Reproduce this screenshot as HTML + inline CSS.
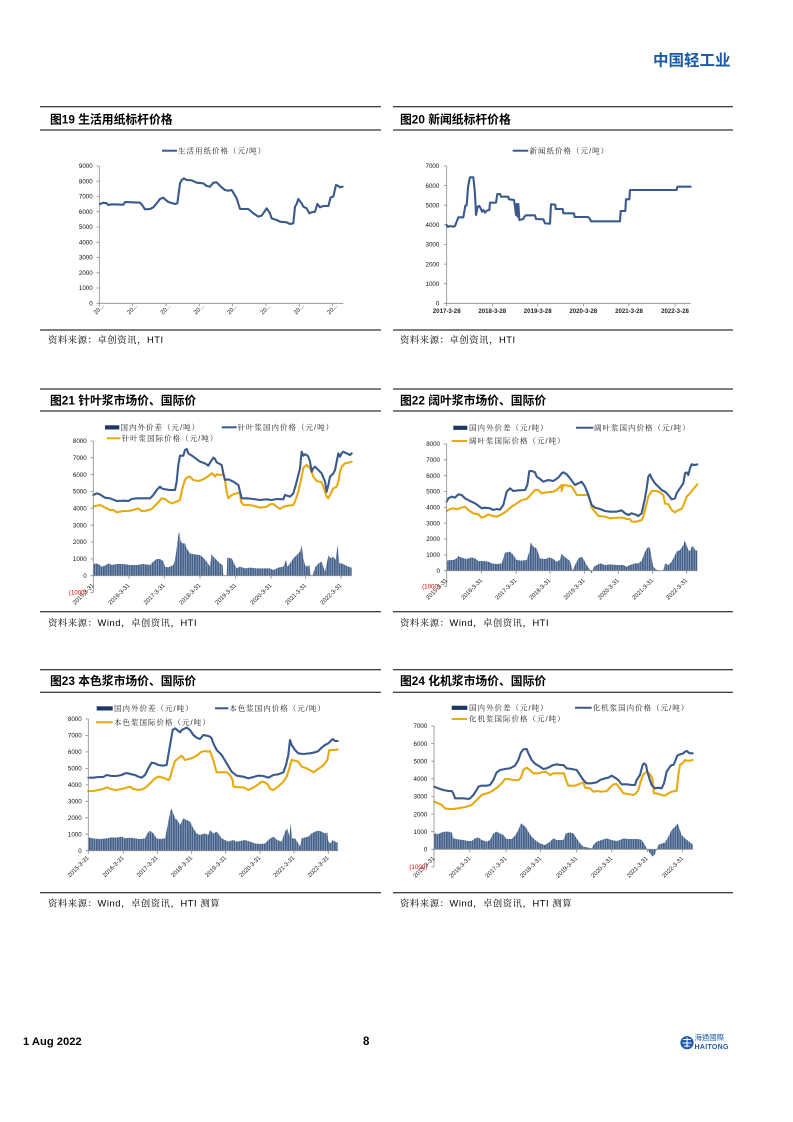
<!DOCTYPE html>
<html>
<head>
<meta charset="utf-8">
<style>
html,body{margin:0;padding:0;background:#fff;}
body{width:793px;height:1122px;overflow:hidden;}
svg{display:block;}
text{font-family:"Liberation Sans","Noto Sans CJK SC",sans-serif;}
.ttl{font-size:11.8px;font-weight:bold;fill:#000;}
.src{font-size:9.3px;letter-spacing:0.6px;fill:#000;font-family:"Liberation Sans","Noto Serif CJK SC",serif;}
.lg{font-size:7.5px;letter-spacing:1px;fill:#222;font-family:"Liberation Sans","Noto Serif CJK SC",serif;}
.yl{font-size:6.2px;fill:#111;text-anchor:end;}
.yr{font-size:6.2px;fill:#e00000;text-anchor:end;}
.xl{font-size:6px;fill:#222;text-anchor:end;}
.xb{font-size:6.1px;font-weight:bold;fill:#222;text-anchor:middle;}
.ax{stroke:#8a8a8a;stroke-width:0.8;fill:none;}
.rule{stroke:#000;stroke-width:1;}
.bl{fill:none;stroke:#3a5a8c;stroke-width:6.3;stroke-linejoin:round;stroke-linecap:round;}
.ye{fill:none;stroke:#e6ab12;stroke-width:6.3;stroke-linejoin:round;stroke-linecap:round;}
.bar{fill:url(#st);}
</style>
</head>
<body>
<svg width="793" height="1122" viewBox="0 0 793 1122" xmlns="http://www.w3.org/2000/svg">
<defs>
<pattern id="st" width="7" height="20" patternUnits="userSpaceOnUse">
<rect width="7" height="20" fill="#42608a"/>
<rect x="5.2" width="1.8" height="20" fill="#a9b8cc"/>
</pattern>
</defs>

<!-- Header -->
<text x="653" y="65.5" style="font-size:15.5px;font-weight:bold;fill:#1b5aa6;">中国轻工业</text>

<!-- ============ Chart 19 ============ -->
<line class="rule" x1="40" y1="106.7" x2="381" y2="106.7"/>
<text class="ttl" x="50" y="123.5">图19 生活用纸标杆价格</text>
<line class="rule" x1="40" y1="130" x2="381" y2="130"/>
<line x1="162" y1="150.7" x2="177" y2="150.7" stroke="#3a5a8c" stroke-width="2"/>
<text class="lg" x="178" y="153.4">生活用纸价格（元/吨）</text>
<g>
<text class="yl" x="92.7" y="305.5">0</text>
<text class="yl" x="92.7" y="290.2">1000</text>
<text class="yl" x="92.7" y="275">2000</text>
<text class="yl" x="92.7" y="259.7">3000</text>
<text class="yl" x="92.7" y="244.5">4000</text>
<text class="yl" x="92.7" y="229.2">5000</text>
<text class="yl" x="92.7" y="213.9">6000</text>
<text class="yl" x="92.7" y="198.7">7000</text>
<text class="yl" x="92.7" y="183.4">8000</text>
<text class="yl" x="92.7" y="168.2">9000</text>
</g>
<path class="ax" d="M99.3,166V303.3H343.3 M96.5,166H99.3 M96.5,181.2H99.3 M96.5,196.5H99.3 M96.5,211.7H99.3 M96.5,227H99.3 M96.5,242.3H99.3 M96.5,257.5H99.3 M96.5,272.8H99.3 M96.5,288H99.3 M96.5,303.3H99.3 M99.3,303.3v3 M132.6,303.3v3 M166,303.3v3 M199.3,303.3v3 M232.6,303.3v3 M266,303.3v3 M299.3,303.3v3 M332.6,303.3v3"/>
<g>
<text class="xl" transform="translate(104.3,306.5) rotate(-45)">20...</text>
<text class="xl" transform="translate(137.6,306.5) rotate(-45)">20...</text>
<text class="xl" transform="translate(171,306.5) rotate(-45)">20...</text>
<text class="xl" transform="translate(204.3,306.5) rotate(-45)">20...</text>
<text class="xl" transform="translate(237.6,306.5) rotate(-45)">20...</text>
<text class="xl" transform="translate(271,306.5) rotate(-45)">20...</text>
<text class="xl" transform="translate(304.3,306.5) rotate(-45)">20...</text>
<text class="xl" transform="translate(337.6,306.5) rotate(-45)">20...</text>
</g>
<g transform="translate(40,100) scale(0.33333)">
<polyline class="bl" points="180,312 190,308 200,310 205,315 215,313 250,314 255,306 300,308 305,313 315,328 330,327 340,322 350,310 360,297 370,293 375,298 385,306 405,312 412,310 420,250 425,240 432,235 440,240 455,241 470,248 490,250 500,258 510,260 520,248 530,247 545,262 555,270 565,272 575,270 580,278 590,295 600,327 625,327 640,340 655,350 665,347 680,325 690,340 695,355 710,360 720,365 740,367 750,372 760,370 765,320 770,312 775,297 785,310 790,320 800,325 808,340 815,337 825,335 832,312 840,322 850,318 865,318 872,292 880,290 888,255 895,258 900,262 908,260"/>
</g>
<line class="rule" x1="40" y1="330" x2="381" y2="330"/>
<text class="src" x="48" y="342.8">资料来源：卓创资讯，HTI</text>

<!-- ============ Chart 20 ============ -->
<line class="rule" x1="393" y1="106.7" x2="733" y2="106.7"/>
<text class="ttl" x="400" y="123.5">图20 新闻纸标杆价格</text>
<line class="rule" x1="393" y1="130" x2="733" y2="130"/>
<line x1="512.7" y1="150.7" x2="528.3" y2="150.7" stroke="#3a5a8c" stroke-width="2"/>
<text class="lg" x="529.5" y="153.4">新闻纸价格（元/吨）</text>
<g>
<text class="yl" x="439.3" y="305.5">0</text>
<text class="yl" x="439.3" y="285.9">1000</text>
<text class="yl" x="439.3" y="266.3">2000</text>
<text class="yl" x="439.3" y="246.6">3000</text>
<text class="yl" x="439.3" y="227">4000</text>
<text class="yl" x="439.3" y="207.4">5000</text>
<text class="yl" x="439.3" y="187.8">6000</text>
<text class="yl" x="439.3" y="168.2">7000</text>
</g>
<path class="ax" d="M446.7,166V303.3H690.7 M443.9,166H446.7 M443.9,185.6H446.7 M443.9,205.2H446.7 M443.9,224.8H446.7 M443.9,244.4H446.7 M443.9,264.1H446.7 M443.9,283.7H446.7 M443.9,303.3H446.7 M446.7,303.3v3 M492.3,303.3v3 M537.7,303.3v3 M583.3,303.3v3 M629,303.3v3 M675,303.3v3"/>
<g>
<text class="xb" x="446.7" y="313">2017-3-28</text>
<text class="xb" x="492.3" y="313">2018-3-28</text>
<text class="xb" x="537.7" y="313">2019-3-28</text>
<text class="xb" x="583.3" y="313">2020-3-28</text>
<text class="xb" x="629" y="313">2021-3-28</text>
<text class="xb" x="675" y="313">2022-3-28</text>
</g>
<g transform="translate(390,100) scale(0.33333)">
<polyline class="bl" points="170,375 172,380 176,380 178,378 190,380 195,378 200,365 205,352 220,352 222,340 226,317 230,316 232,290 234,262 238,240 240,232 250,232 252,250 254,270 256,300 258,345 260,335 263,320 268,318 272,325 276,335 280,330 285,338 290,332 298,330 300,308 318,308 322,282 330,282 333,290 355,290 357,298 372,300 375,320 378,345 380,312 383,350 385,312 388,360 400,357 403,350 408,346 435,346 438,357 460,358 465,370 480,371 483,313 496,314 497,327 518,327 520,340 552,340 554,351 594,351 600,357 603,364 690,364 692,333 706,333 708,298 718,298 720,270 860,270 862,260 902,260"/>
</g>
<line class="rule" x1="393" y1="330" x2="733" y2="330"/>
<text class="src" x="400" y="342.8">资料来源：卓创资讯，HTI</text>

<!-- ============ Chart 21 ============ -->
<line class="rule" x1="40" y1="389" x2="381" y2="389"/>
<text class="ttl" x="50" y="404.5">图21 针叶浆市场价、国际价</text>
<line class="rule" x1="40" y1="411" x2="381" y2="411"/>
<rect x="105" y="425.3" width="14.3" height="4.2" fill="#1f3864"/>
<text class="lg" x="120.5" y="430">国内外价差（元/吨）</text>
<line x1="221.7" y1="427.3" x2="236.7" y2="427.3" stroke="#3a5a8c" stroke-width="2"/>
<text class="lg" x="237.5" y="430">针叶浆国内价格（元/吨）</text>
<line x1="106.7" y1="438.3" x2="120.5" y2="438.3" stroke="#e6ab12" stroke-width="2"/>
<text class="lg" x="121.7" y="441">针叶浆国际价格（元/吨）</text>
<g>
<text class="yr" x="86.7" y="594.7">(1000)</text>
<text class="yl" x="86.7" y="577.9">0</text>
<text class="yl" x="86.7" y="561.1">1000</text>
<text class="yl" x="86.7" y="544.2">2000</text>
<text class="yl" x="86.7" y="527.4">3000</text>
<text class="yl" x="86.7" y="510.5">4000</text>
<text class="yl" x="86.7" y="493.7">5000</text>
<text class="yl" x="86.7" y="476.9">6000</text>
<text class="yl" x="86.7" y="460">7000</text>
<text class="yl" x="86.7" y="443.2">8000</text>
</g>
<g transform="translate(40,385) scale(0.33333)">
<polygon class="bar" points="160,572 160,540 165,535 175,537 185,545 195,542 205,535 215,540 230,537 250,537 270,540 290,540 310,537 330,540 340,530 350,522 360,522 370,528 375,545 385,547 400,540 405,525 410,490 415,450 418,440 422,470 428,475 435,475 440,490 450,505 465,508 480,510 490,518 500,530 510,545 515,505 520,515 530,525 540,535 548,540 550,572 560,572 562,518 575,520 582,535 590,550 600,545 615,550 630,548 650,550 670,550 690,550 700,555 715,548 730,545 738,525 742,545 750,535 760,520 770,510 780,500 785,480 790,520 795,540 800,545 808,540 812,572 818,572 825,548 835,535 845,530 850,545 855,560 860,535 866,510 872,520 880,515 887,525 893,480 898,535 905,535 915,540 925,545 935,548 935,572"/>
<polyline class="ye" points="160,365 170,362 180,360 190,365 200,370 210,375 220,375 230,382 240,380 250,378 265,378 280,375 295,370 305,378 320,377 335,372 345,362 355,352 365,340 375,342 385,350 395,355 410,350 420,345 425,320 430,300 435,285 440,278 450,275 460,285 475,288 485,285 495,280 505,273 515,265 520,268 525,275 530,268 540,270 550,268 555,285 560,320 565,340 575,330 590,325 600,323 603,350 610,360 625,360 640,362 660,368 680,365 690,358 700,357 710,365 720,372 730,365 745,362 760,360 765,350 775,320 785,275 790,248 800,240 810,250 815,260 820,275 830,288 845,292 855,320 860,335 865,340 870,330 880,310 890,305 895,290 900,260 905,245 915,235 930,232 935,230"/>
<polyline class="bl" points="160,330 170,325 180,328 190,335 195,338 210,340 230,348 250,347 265,348 275,342 290,340 310,340 330,340 340,330 350,315 360,305 365,310 375,313 390,315 405,315 410,290 415,240 420,212 430,212 435,195 440,192 445,205 460,215 480,230 495,235 505,242 512,230 520,218 525,222 530,232 545,240 550,265 555,285 565,283 580,290 595,300 600,320 605,340 620,340 640,342 660,345 680,343 695,345 710,342 730,343 735,330 750,335 760,325 770,290 780,250 785,200 790,212 795,208 800,210 805,215 810,230 815,260 820,250 825,245 835,255 845,265 855,290 860,320 865,300 870,275 880,265 885,255 890,230 895,205 900,215 905,205 910,200 920,205 930,210 935,205"/>
</g>
<path class="ax" d="M93.3,441V592.5 M93.3,575.7H351.7 M90.5,441H93.3 M90.5,457.8H93.3 M90.5,474.7H93.3 M90.5,491.5H93.3 M90.5,508.3H93.3 M90.5,525.2H93.3 M90.5,542H93.3 M90.5,558.9H93.3 M90.5,575.7H93.3 M90.5,592.5H93.3 M93.3,575.7v3 M129,575.7v3 M164.3,575.7v3 M200,575.7v3 M235.7,575.7v3 M271,575.7v3 M305.7,575.7v3 M341,575.7v3"/>
<g>
<text class="xl" transform="translate(94.3,585.7) rotate(-45)">2015-3-31</text>
<text class="xl" transform="translate(130,585.7) rotate(-45)">2016-3-31</text>
<text class="xl" transform="translate(165.3,585.7) rotate(-45)">2017-3-31</text>
<text class="xl" transform="translate(201,585.7) rotate(-45)">2018-3-31</text>
<text class="xl" transform="translate(236.7,585.7) rotate(-45)">2019-3-31</text>
<text class="xl" transform="translate(272,585.7) rotate(-45)">2020-3-31</text>
<text class="xl" transform="translate(306.7,585.7) rotate(-45)">2021-3-31</text>
<text class="xl" transform="translate(342,585.7) rotate(-45)">2022-3-31</text>
</g>
<line class="rule" x1="40" y1="611.7" x2="381" y2="611.7"/>
<text class="src" x="48" y="625.8">资料来源：Wind，卓创资讯，HTI</text>

<!-- ============ Chart 22 ============ -->
<line class="rule" x1="393" y1="389" x2="733" y2="389"/>
<text class="ttl" x="400" y="404.5">图22 阔叶浆市场价、国际价</text>
<line class="rule" x1="393" y1="411" x2="733" y2="411"/>
<rect x="453.3" y="425.7" width="14" height="4.2" fill="#1f3864"/>
<text class="lg" x="469" y="430.4">国内外价差（元/吨）</text>
<line x1="576" y1="427.7" x2="593.3" y2="427.7" stroke="#3a5a8c" stroke-width="2"/>
<text class="lg" x="594" y="430.4">阔叶浆国内价格（元/吨）</text>
<line x1="451.7" y1="441" x2="467.3" y2="441" stroke="#e6ab12" stroke-width="2"/>
<text class="lg" x="469" y="443.7">阔叶浆国际价格（元/吨）</text>
<g>
<text class="yr" x="440" y="588.7">(1000)</text>
<text class="yl" x="440" y="572.9">0</text>
<text class="yl" x="440" y="557.1">1000</text>
<text class="yl" x="440" y="541.2">2000</text>
<text class="yl" x="440" y="525.4">3000</text>
<text class="yl" x="440" y="509.5">4000</text>
<text class="yl" x="440" y="493.7">5000</text>
<text class="yl" x="440" y="477.9">6000</text>
<text class="yl" x="440" y="462">7000</text>
<text class="yl" x="440" y="446.2">8000</text>
</g>
<g transform="translate(390,385) scale(0.33333)">
<polygon class="bar" points="170,557 170,527 180,525 190,525 200,520 205,513 215,518 230,522 245,517 255,520 265,528 280,528 295,530 305,535 320,537 335,535 340,520 345,503 360,500 370,510 380,525 395,527 410,525 418,500 422,472 430,485 440,490 450,520 465,522 480,517 490,522 500,530 510,525 515,505 520,512 530,520 540,528 548,557 555,540 565,520 575,515 582,525 590,540 598,552 605,565 608,557 612,545 630,535 645,540 660,538 680,540 700,540 710,545 720,540 735,535 745,535 755,527 765,500 775,485 780,490 785,520 790,545 800,555 810,557 820,557 825,535 835,540 845,530 850,520 860,500 870,495 880,480 884,467 888,475 895,495 900,498 905,485 910,485 915,495 922,497 922,557"/>
<polyline class="ye" points="170,378 180,372 190,370 200,373 215,368 225,365 235,375 250,385 265,388 275,398 285,395 295,388 305,392 320,395 335,388 350,378 365,365 380,355 395,345 410,342 420,332 435,315 445,315 455,325 470,322 490,320 500,315 510,305 515,300 515,318 520,300 535,302 545,305 555,320 560,330 575,330 585,330 595,330 600,345 605,368 615,380 625,393 645,395 660,400 680,398 700,398 710,402 720,402 725,410 740,410 755,405 760,395 765,375 775,335 785,318 800,318 810,322 820,330 825,355 835,358 845,375 855,382 865,375 875,372 885,350 890,335 900,325 910,312 922,298"/>
<polyline class="bl" points="170,350 175,340 185,335 195,338 205,328 215,330 225,340 240,348 255,355 265,362 275,370 285,368 300,370 310,375 320,372 330,374 340,360 345,340 350,320 360,310 370,318 385,316 405,315 412,300 418,258 425,258 435,262 440,275 450,282 460,290 475,285 490,288 505,278 515,265 520,262 530,268 540,280 555,300 565,295 575,290 585,305 595,330 605,360 615,368 630,372 645,378 660,380 680,380 695,376 705,385 715,390 725,385 735,388 745,393 755,385 765,340 770,310 775,275 780,268 785,280 795,295 805,305 815,315 825,320 835,330 845,343 855,340 860,325 870,310 880,295 885,265 890,262 895,270 900,250 905,238 915,240 922,238"/>
</g>
<path class="ax" d="M446.7,444V586.5 M446.7,570.7H697.3 M443.9,444H446.7 M443.9,459.8H446.7 M443.9,475.7H446.7 M443.9,491.5H446.7 M443.9,507.3H446.7 M443.9,523.2H446.7 M443.9,539H446.7 M443.9,554.9H446.7 M443.9,570.7H446.7 M443.9,586.5H446.7 M446.7,570.7v3 M481.7,570.7v3 M516,570.7v3 M550,570.7v3 M584.3,570.7v3 M618.3,570.7v3 M652.7,570.7v3 M686.7,570.7v3"/>
<g>
<text class="xl" transform="translate(447.7,580.7) rotate(-45)">2015-3-31</text>
<text class="xl" transform="translate(482.7,580.7) rotate(-45)">2016-3-31</text>
<text class="xl" transform="translate(517,580.7) rotate(-45)">2017-3-31</text>
<text class="xl" transform="translate(551,580.7) rotate(-45)">2018-3-31</text>
<text class="xl" transform="translate(585.3,580.7) rotate(-45)">2019-3-31</text>
<text class="xl" transform="translate(619.3,580.7) rotate(-45)">2020-3-31</text>
<text class="xl" transform="translate(653.7,580.7) rotate(-45)">2021-3-31</text>
<text class="xl" transform="translate(687.7,580.7) rotate(-45)">2022-3-31</text>
</g>
<line class="rule" x1="393" y1="611.7" x2="733" y2="611.7"/>
<text class="src" x="400" y="625.8">资料来源：Wind，卓创资讯，HTI</text>

<!-- ============ Chart 23 ============ -->
<line class="rule" x1="40" y1="669.7" x2="381" y2="669.7"/>
<text class="ttl" x="50" y="685.2">图23 本色浆市场价、国际价</text>
<line class="rule" x1="40" y1="692.3" x2="381" y2="692.3"/>
<rect x="96.7" y="706.3" width="16" height="4.2" fill="#1f3864"/>
<text class="lg" x="114" y="711">国内外价差（元/吨）</text>
<line x1="215" y1="708.3" x2="228.3" y2="708.3" stroke="#3a5a8c" stroke-width="2"/>
<text class="lg" x="229.3" y="711">本色浆国内价格（元/吨）</text>
<line x1="96" y1="722.3" x2="112.7" y2="722.3" stroke="#e6ab12" stroke-width="2"/>
<text class="lg" x="114" y="725">本色浆国际价格（元/吨）</text>
<g>
<text class="yl" x="81.7" y="852.9">0</text>
<text class="yl" x="81.7" y="836.4">1000</text>
<text class="yl" x="81.7" y="820">2000</text>
<text class="yl" x="81.7" y="803.5">3000</text>
<text class="yl" x="81.7" y="787.1">4000</text>
<text class="yl" x="81.7" y="770.6">5000</text>
<text class="yl" x="81.7" y="754.1">6000</text>
<text class="yl" x="81.7" y="737.7">7000</text>
<text class="yl" x="81.7" y="721.2">8000</text>
</g>
<g transform="translate(40,665) scale(0.33333)">
<polygon class="bar" points="145,557 145,517 160,520 180,522 200,520 215,517 230,518 245,515 255,520 270,518 285,520 300,522 315,520 322,505 330,497 340,505 350,520 360,522 375,520 385,470 393,430 398,440 405,460 412,465 420,480 430,460 440,465 450,470 460,490 470,505 480,510 495,505 505,510 510,495 520,505 530,500 538,510 545,520 555,525 565,530 580,525 590,530 600,528 615,525 630,530 645,535 660,537 675,535 688,522 700,515 712,525 725,530 735,500 742,490 748,515 752,475 756,520 765,520 775,535 780,545 785,520 795,517 805,515 815,505 825,500 835,497 845,500 855,505 862,502 865,530 872,535 878,525 885,530 893,533 893,557"/>
<polyline class="ye" points="145,378 160,378 175,375 190,372 200,367 215,373 230,375 245,372 260,368 270,365 280,372 295,375 310,372 320,365 330,355 345,340 355,335 365,337 375,340 385,345 390,340 395,320 405,288 415,280 425,272 435,285 445,282 455,280 465,275 475,268 485,260 495,258 505,260 510,258 520,285 525,305 530,322 545,322 560,322 570,330 578,345 580,365 595,367 610,367 625,375 640,368 652,360 665,350 675,352 685,360 690,372 700,375 710,368 720,360 730,350 740,335 748,310 755,285 765,287 775,290 785,305 800,310 815,318 820,322 830,315 845,305 855,295 862,285 868,255 875,255 885,255 893,253"/>
<polyline class="bl" points="145,338 160,338 175,336 190,336 200,330 215,333 230,333 245,330 255,325 265,325 275,328 285,330 295,335 305,338 315,330 325,310 335,293 345,295 355,300 370,302 380,300 385,270 392,230 398,195 405,190 415,198 420,202 425,195 435,190 440,188 450,195 460,210 470,218 480,222 490,210 500,212 510,215 515,220 520,235 530,255 545,270 560,295 575,320 590,332 610,335 625,340 640,336 655,332 670,333 685,338 700,330 715,328 730,322 738,300 745,270 750,225 755,240 765,255 775,265 790,267 810,265 825,262 835,258 845,248 855,240 865,235 870,230 878,222 885,228 893,228"/>
</g>
<path class="ax" d="M88.3,719V850.7H338.3 M85.5,719H88.3 M85.5,735.5H88.3 M85.5,751.9H88.3 M85.5,768.4H88.3 M85.5,784.9H88.3 M85.5,801.3H88.3 M85.5,817.8H88.3 M85.5,834.2H88.3 M85.5,850.7H88.3 M88.3,850.7v3 M123.3,850.7v3 M157.3,850.7v3 M191.7,850.7v3 M225.7,850.7v3 M260,850.7v3 M294,850.7v3 M328.3,850.7v3"/>
<g>
<text class="xl" transform="translate(89.3,858.2) rotate(-45)">2015-3-31</text>
<text class="xl" transform="translate(124.3,858.2) rotate(-45)">2016-3-31</text>
<text class="xl" transform="translate(158.3,858.2) rotate(-45)">2017-3-31</text>
<text class="xl" transform="translate(192.7,858.2) rotate(-45)">2018-3-31</text>
<text class="xl" transform="translate(226.7,858.2) rotate(-45)">2019-3-31</text>
<text class="xl" transform="translate(261,858.2) rotate(-45)">2020-3-31</text>
<text class="xl" transform="translate(295,858.2) rotate(-45)">2021-3-31</text>
<text class="xl" transform="translate(329.3,858.2) rotate(-45)">2022-3-31</text>
</g>
<line class="rule" x1="40" y1="892.7" x2="381" y2="892.7"/>
<text class="src" x="48" y="906.5">资料来源：Wind，卓创资讯，HTI 测算</text>

<!-- ============ Chart 24 ============ -->
<line class="rule" x1="393" y1="669.7" x2="733" y2="669.7"/>
<text class="ttl" x="400" y="685.2">图24 化机浆市场价、国际价</text>
<line class="rule" x1="393" y1="692.3" x2="733" y2="692.3"/>
<rect x="451.7" y="705.7" width="15.6" height="4.2" fill="#1f3864"/>
<text class="lg" x="469" y="710.4">国内外价差（元/吨）</text>
<line x1="575" y1="707.7" x2="591.7" y2="707.7" stroke="#3a5a8c" stroke-width="2"/>
<text class="lg" x="592.7" y="710.4">化机浆国内价格（元/吨）</text>
<line x1="451.7" y1="719" x2="467.3" y2="719" stroke="#e6ab12" stroke-width="2"/>
<text class="lg" x="469" y="721.7">化机浆国际价格（元/吨）</text>
<g>
<text class="yr" x="427.3" y="869.1">(1000)</text>
<text class="yl" x="427.3" y="851.5">0</text>
<text class="yl" x="427.3" y="833.9">1000</text>
<text class="yl" x="427.3" y="816.3">2000</text>
<text class="yl" x="427.3" y="798.6">3000</text>
<text class="yl" x="427.3" y="781">4000</text>
<text class="yl" x="427.3" y="763.4">5000</text>
<text class="yl" x="427.3" y="745.8">6000</text>
<text class="yl" x="427.3" y="728.2">7000</text>
</g>
<g transform="translate(390,665) scale(0.33333)">
<polygon class="bar" points="132,553 132,505 145,507 155,502 165,500 175,500 185,502 190,520 205,523 220,525 235,528 245,528 255,520 265,517 275,525 290,530 300,525 310,505 320,500 330,505 340,510 350,522 365,522 375,512 385,495 393,475 400,480 408,487 415,500 425,515 435,525 450,535 465,540 480,530 490,520 500,525 510,525 520,525 528,505 540,502 550,505 560,520 570,535 580,545 595,548 605,550 610,540 620,530 635,525 650,520 665,525 680,528 690,525 700,520 715,522 730,522 745,522 755,525 765,540 772,553 780,565 788,575 795,568 800,553 805,540 815,535 825,533 835,515 845,495 855,485 863,475 868,490 875,510 885,520 895,528 908,538 908,553"/>
<polyline class="ye" points="132,410 145,415 155,420 165,430 175,432 190,432 205,430 215,428 230,425 245,420 255,410 265,400 275,390 290,385 300,382 315,372 325,365 335,355 345,342 355,342 370,345 385,345 393,338 400,315 410,308 420,315 430,325 445,325 455,322 468,320 480,330 490,325 505,325 515,325 522,325 528,345 535,362 555,362 570,356 580,352 585,368 600,370 610,380 620,378 635,380 650,378 660,368 670,358 680,357 690,370 700,385 715,387 730,390 738,385 745,375 752,350 760,328 770,320 780,328 787,340 792,385 800,385 815,390 825,392 835,385 845,380 860,377 865,330 870,300 880,292 885,285 890,287 900,287 908,285"/>
<polyline class="bl" points="132,365 145,370 160,375 175,378 185,378 190,385 195,400 205,400 220,400 235,402 240,400 250,390 260,375 265,365 275,362 290,362 300,360 310,345 320,322 330,315 345,312 360,310 375,302 385,285 393,262 400,253 410,252 415,265 425,285 435,296 450,305 460,312 470,310 480,305 490,300 500,298 510,300 520,300 530,310 545,312 560,315 570,330 580,345 590,355 605,355 620,352 630,345 645,340 655,338 665,332 675,338 685,345 695,358 710,358 725,360 735,360 740,345 750,330 758,300 762,295 768,300 772,320 778,340 785,360 795,370 805,368 815,370 822,355 830,320 840,305 845,300 850,300 855,290 862,272 870,268 880,265 885,260 890,258 895,262 900,265 908,265"/>
</g>
<path class="ax" d="M434,726V867 M434,849.3H692.7 M431.2,726H434 M431.2,743.6H434 M431.2,761.2H434 M431.2,778.8H434 M431.2,796.4H434 M431.2,814.1H434 M431.2,831.7H434 M431.2,849.3H434 M431.2,867H434 M434,849.3v3 M470,849.3v3 M506,849.3v3 M540.7,849.3v3 M576.7,849.3v3 M611.7,849.3v3 M647.3,849.3v3 M682.7,849.3v3"/>
<g>
<text class="xl" transform="translate(435,858.8) rotate(-45)">2015-3-31</text>
<text class="xl" transform="translate(471,858.8) rotate(-45)">2016-3-31</text>
<text class="xl" transform="translate(507,858.8) rotate(-45)">2017-3-31</text>
<text class="xl" transform="translate(541.7,858.8) rotate(-45)">2018-3-31</text>
<text class="xl" transform="translate(577.7,858.8) rotate(-45)">2019-3-31</text>
<text class="xl" transform="translate(612.7,858.8) rotate(-45)">2020-3-31</text>
<text class="xl" transform="translate(648.3,858.8) rotate(-45)">2021-3-31</text>
<text class="xl" transform="translate(683.7,858.8) rotate(-45)">2022-3-31</text>
</g>
<line class="rule" x1="393" y1="892.7" x2="733" y2="892.7"/>
<text class="src" x="400" y="906.5">资料来源：Wind，卓创资讯，HTI 测算</text>

<!-- Footer -->
<text x="23" y="1045" style="font-size:11.2px;font-weight:bold;fill:#000;">1 Aug 2022</text>
<text x="363" y="1045" style="font-size:11.5px;font-weight:bold;fill:#000;">8</text>
<circle cx="687" cy="1042.7" r="6.6" fill="#1e5aa8"/>
<path d="M683,1039.5h8 M682.5,1043h9 M687,1037.5v10 M684,1046.5c1.5,-1 4.5,-1 6,0" stroke="#fff" stroke-width="1" fill="none"/>
<text x="694.5" y="1040.2" style="font-size:7.4px;fill:#1e5aa8;font-family:'Liberation Sans','Noto Sans CJK TC',sans-serif;">海通國際</text>
<text x="694.5" y="1049" style="font-size:7px;font-weight:bold;fill:#1e5aa8;letter-spacing:0.3px;">HAITONG</text>

</svg>
</body>
</html>
